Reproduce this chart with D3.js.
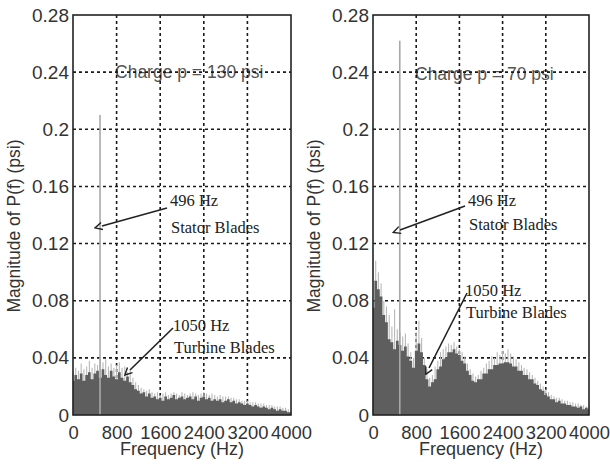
<!DOCTYPE html>
<html>
<head>
<meta charset="utf-8">
<script src="https://cdn.jsdelivr.net/npm/d3@7"></script>
<style>
  body { margin: 0; background: #fff; }
</style>
</head>
<body>
<div id="chart"></div>
<script>
// tick values and labels (shared by both panels)
const xTicks = [0, 800, 1600, 2400, 3200, 4000];
const yTicks = [0, 0.04, 0.08, 0.12, 0.16, 0.2, 0.24, 0.28];
const yTickLabels = ["0", "0.04", "0.08", "0.12", "0.16", "0.2", "0.24", "0.28"];

// spectrum, one value per 50 Hz bin, 0..4000 Hz
const binHz = 50;

// charge p = 130 psi : dark body and light peak tops
const body130 = [
  0.024, 0.028, 0.025, 0.029, 0.024, 0.028, 0.030, 0.025, 0.029, 0.031,
  0.026, 0.032, 0.028, 0.026, 0.031, 0.027, 0.025, 0.030, 0.026, 0.024,
  0.027, 0.023, 0.021, 0.018, 0.017, 0.015, 0.016, 0.013, 0.015, 0.012,
  0.013, 0.011, 0.012, 0.010, 0.013, 0.011, 0.012, 0.014, 0.011, 0.012,
  0.013, 0.011, 0.012, 0.013, 0.011, 0.013, 0.010, 0.012, 0.013, 0.011,
  0.012, 0.010, 0.011, 0.010, 0.011, 0.009, 0.010, 0.011, 0.009, 0.010,
  0.008, 0.009, 0.008, 0.007, 0.008, 0.007, 0.006, 0.007, 0.006, 0.005,
  0.006, 0.005, 0.004, 0.005, 0.004, 0.003, 0.004, 0.003, 0.003, 0.002,
  0.002
];
const peak130 = [
  0.030, 0.033, 0.031, 0.036, 0.032, 0.034, 0.038, 0.033, 0.036, 0.035,
  0.040, 0.037, 0.039, 0.034, 0.036, 0.033, 0.035, 0.037, 0.033, 0.034,
  0.030, 0.032, 0.026, 0.023, 0.021, 0.019, 0.018, 0.017, 0.018, 0.016,
  0.015, 0.016, 0.014, 0.015, 0.016, 0.014, 0.015, 0.016, 0.015, 0.014,
  0.016, 0.015, 0.014, 0.015, 0.016, 0.015, 0.014, 0.015, 0.016, 0.015,
  0.014, 0.015, 0.014, 0.013, 0.014, 0.013, 0.013, 0.013, 0.012, 0.012,
  0.011, 0.011, 0.010, 0.010, 0.010, 0.009, 0.009, 0.009, 0.008, 0.008,
  0.008, 0.007, 0.007, 0.007, 0.006, 0.006, 0.006, 0.005, 0.005, 0.004,
  0.003
];

// charge p = 70 psi
const body70 = [
  0.075, 0.094, 0.088, 0.083, 0.070, 0.065, 0.053, 0.051, 0.046, 0.052,
  0.049, 0.045, 0.048, 0.041, 0.038, 0.033, 0.045, 0.050, 0.044, 0.035,
  0.025, 0.020, 0.023, 0.025, 0.032, 0.034, 0.039, 0.040, 0.044, 0.044,
  0.046, 0.043, 0.042, 0.038, 0.036, 0.031, 0.028, 0.024, 0.023, 0.025,
  0.025, 0.029, 0.029, 0.032, 0.032, 0.035, 0.035, 0.036, 0.036, 0.037,
  0.037, 0.036, 0.034, 0.034, 0.031, 0.031, 0.028, 0.028, 0.025, 0.025,
  0.022, 0.021, 0.018, 0.017, 0.014, 0.013, 0.011, 0.011, 0.009, 0.010,
  0.008, 0.008, 0.007, 0.007, 0.006, 0.006, 0.005, 0.006, 0.004, 0.005,
  0.004
];
const peak70 = [
  0.080, 0.108, 0.100, 0.092, 0.080, 0.076, 0.070, 0.062, 0.074, 0.060,
  0.058, 0.055, 0.057, 0.050, 0.044, 0.040, 0.058, 0.066, 0.054, 0.040,
  0.032, 0.026, 0.028, 0.034, 0.038, 0.044, 0.046, 0.048, 0.050, 0.049,
  0.051, 0.048, 0.046, 0.044, 0.041, 0.036, 0.032, 0.029, 0.027, 0.028,
  0.031, 0.033, 0.036, 0.038, 0.041, 0.040, 0.044, 0.042, 0.045, 0.043,
  0.046, 0.043, 0.041, 0.039, 0.037, 0.035, 0.033, 0.032, 0.030, 0.028,
  0.026, 0.024, 0.022, 0.020, 0.018, 0.016, 0.014, 0.013, 0.012, 0.012,
  0.011, 0.010, 0.010, 0.009, 0.009, 0.008, 0.008, 0.007, 0.007, 0.006,
  0.006
];

// stator blade spike (496 Hz) in each panel
const spikeHz = 496;
const spike130 = 0.21;
const spike70 = 0.262;

const panels = [
  { left: 73, width: 218, title: "Charge p = 130 psi", body: body130, peak: peak130, spike: spike130,
    notes: [
      { lines: ["496 Hz", "Stator Blades"], at: [1780, 0.1463], dy: 0.0189, from: [1725, 0.1449], to: [532, 0.1323] },
      { lines: ["1050 Hz", "Turbine Blades"], at: [1835, 0.0588], dy: 0.0154, from: [1835, 0.0609], to: [1046, 0.0315] }
    ],
    titleAt: [771, 0.2359] },
  { left: 373, width: 216, title: "Charge p = 70 psi", body: body70, peak: peak70, spike: spike70,
    notes: [
      { lines: ["496 Hz", "Stator Blades"], at: [1759, 0.1463], dy: 0.0168, from: [1704, 0.1463], to: [500, 0.1295] },
      { lines: ["1050 Hz", "Turbine Blades"], at: [1704, 0.0833], dy: 0.0154, from: [1741, 0.0854], to: [1037, 0.0329] }
    ],
    titleAt: [778, 0.2345] }
];

const plotTop = 15, plotHeight = 400;

const svg = d3.select("#chart")
  .append("svg")
  .attr("width", 610)
  .attr("height", 470)
  .style("font-family", "'Liberation Sans', Arial, sans-serif");

svg.append("defs").append("marker")
  .attr("id", "arrow")
  .attr("viewBox", "0 0 10 10")
  .attr("refX", 1).attr("refY", 5)
  .attr("markerWidth", 9).attr("markerHeight", 9)
  .attr("markerUnits", "userSpaceOnUse")
  .attr("orient", "auto")
  .append("path")
  .attr("d", "M1,1 L9,5 L1,9")
  .attr("fill", "none")
  .attr("stroke", "#222")
  .attr("stroke-width", 1.6);

panels.forEach(p => {
  const g = svg.append("g").attr("transform", "translate(" + p.left + "," + plotTop + ")");

  const x = d3.scaleLinear().domain([0, 4000]).range([0, p.width]);
  const y = d3.scaleLinear().domain([0, 0.28]).range([plotHeight, 0]);

  // annotation texts (grid lines run over them)
  g.append("text")
    .attr("x", x(p.titleAt[0])).attr("y", y(p.titleAt[1]))
    .attr("font-size", 17.5).attr("fill", "#555")
    .text(p.title);

  p.notes.forEach(n => {
    n.lines.forEach((t, i) => {
      g.append("text")
        .attr("x", x(n.at[0]) + (i ? 1 : 0)).attr("y", y(n.at[1] - i * n.dy))
        .attr("font-family", "'Liberation Serif', 'Times New Roman', serif")
        .attr("font-size", 16.5).attr("fill", "#222")
        .text(t);
    });
  });

  // grid
  const grid = g.append("g").attr("stroke", "#1a1a1a").attr("stroke-width", 1.6)
    .attr("stroke-dasharray", "3,3");
  grid.selectAll(".gx").data(xTicks.slice(1, -1)).enter().append("line")
    .attr("x1", d => x(d)).attr("x2", d => x(d)).attr("y1", 0).attr("y2", plotHeight);
  grid.selectAll(".gy").data(yTicks.slice(1, -1)).enter().append("line")
    .attr("x1", 0).attr("x2", p.width).attr("y1", d => y(d)).attr("y2", d => y(d));

  // spectrum: light peak tops, then dark body
  g.selectAll(".pk").data(p.peak).enter().append("line")
    .attr("x1", (d, i) => x(i * binHz)).attr("x2", (d, i) => x(i * binHz))
    .attr("y1", y(0)).attr("y2", d => y(d))
    .attr("stroke", "#b8b8b8").attr("stroke-width", 1.1);

  const area = d3.area()
    .x((d, i) => x(i * binHz))
    .y0(y(0))
    .y1(d => y(d))
    .curve(d3.curveStep);
  g.append("path").datum(p.body)
    .attr("d", area)
    .attr("fill", "#5e5e5e");

  // stator blade spike
  g.append("line")
    .attr("x1", x(spikeHz)).attr("x2", x(spikeHz))
    .attr("y1", y(0)).attr("y2", y(p.spike))
    .attr("stroke", "#a8a8a8").attr("stroke-width", 1.6);

  // frame
  g.append("rect").attr("width", p.width).attr("height", plotHeight)
    .attr("fill", "none").attr("stroke", "#222").attr("stroke-width", 1.6);

  // arrows
  p.notes.forEach(n => {
    g.append("line")
      .attr("x1", x(n.from[0])).attr("y1", y(n.from[1]))
      .attr("x2", x(n.to[0])).attr("y2", y(n.to[1]))
      .attr("stroke", "#222").attr("stroke-width", 1.6)
      .attr("marker-end", "url(#arrow)");
  });

  // axes
  const xAxis = g.append("g")
    .attr("transform", "translate(0," + plotHeight + ")")
    .call(d3.axisBottom(x).tickValues(xTicks).tickSize(0).tickPadding(11).tickFormat(d3.format("d")));
  xAxis.select(".domain").remove();
  xAxis.selectAll("text").attr("font-size", 18.4).attr("fill", "#333")
    .attr("font-family", "'Liberation Sans', Arial, sans-serif");

  const yAxis = g.append("g")
    .call(d3.axisLeft(y).tickValues(yTicks).tickSize(0).tickPadding(4)
      .tickFormat((d, i) => yTickLabels[i]));
  yAxis.select(".domain").remove();
  yAxis.selectAll("text").attr("font-size", 19).attr("fill", "#333")
    .attr("font-family", "'Liberation Sans', Arial, sans-serif");

  // axis titles
  g.append("text")
    .attr("x", p.width / 2).attr("y", plotHeight + 40)
    .attr("text-anchor", "middle").attr("font-size", 18).attr("fill", "#333")
    .text("Frequency (Hz)");
  g.append("text")
    .attr("transform", "translate(-53," + 211 + ")rotate(-90)")
    .attr("text-anchor", "middle").attr("font-size", 17.5).attr("fill", "#333")
    .text("Magnitude of P(f) (psi)");
});
</script>
</body>
</html>
